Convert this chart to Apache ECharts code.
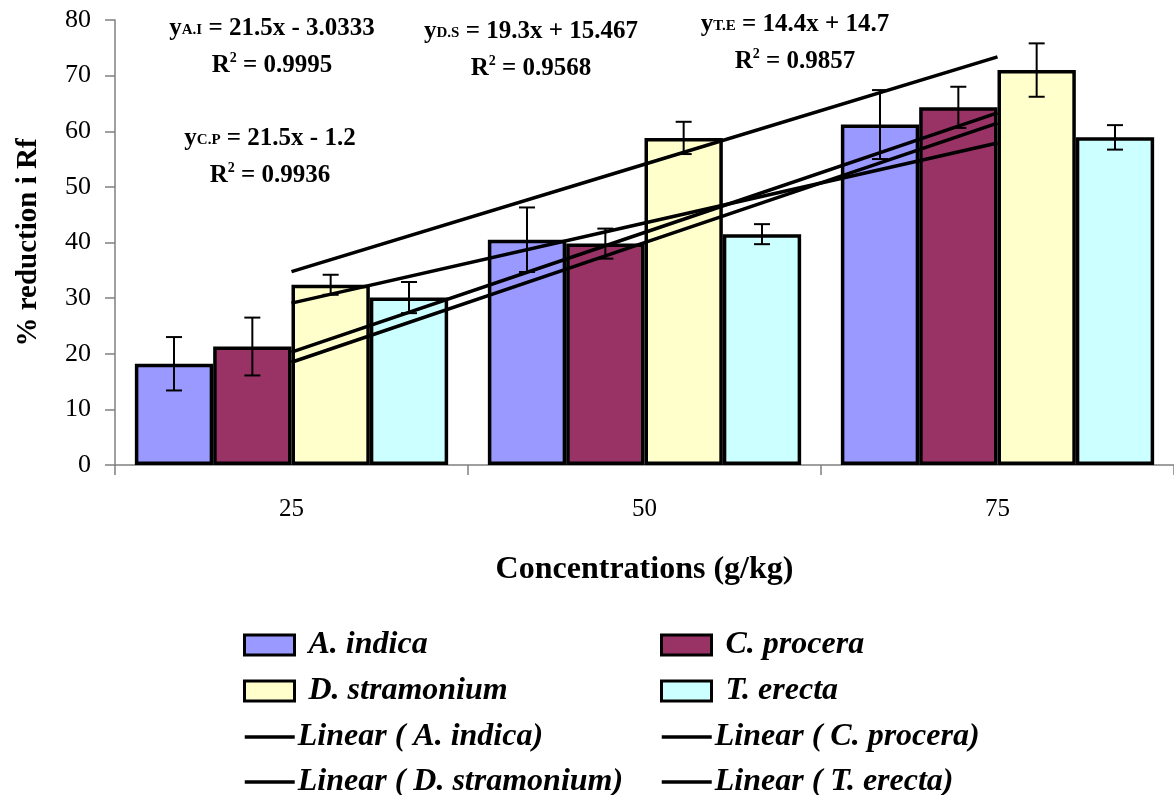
<!DOCTYPE html>
<html>
<head>
<meta charset="utf-8">
<script src="https://cdn.jsdelivr.net/npm/echarts@6/dist/echarts.min.js"></script>
<style>
  html, body { margin: 0; padding: 0; background: #fff; }
  #chart { width: 1174px; height: 795px; }
</style>
</head>
<body>
<div id="chart"></div>
<script>
// concentrations (g/kg)
var categories = ['25', '50', '75'];

var seriesNames = ['A. indica', 'C. procera', 'D. stramonium', 'T. erecta'];
var seriesColors = ['#9999FF', '#993366', '#FFFFCC', '#CCFFFF'];

// % reduction in Rf
var indica = [18.2, 40.5, 61.2];
var procera = [21.3, 39.8, 64.3];
var stramonium = [32.4, 58.8, 71.0];
var erecta = [30.1, 41.5, 58.9];

// error bar half-lengths
var indicaErr = [4.8, 5.8, 6.2];
var proceraErr = [5.2, 2.7, 3.7];
var stramoniumErr = [1.8, 2.9, 4.8];
var erectaErr = [2.8, 1.8, 2.2];

// linear trend lines as printed on the chart (x = 1, 2, 3)
var trendSlope = [21.5, 21.5, 19.3, 14.4];
var trendIntercept = [-3.0333, -1.2, 15.467, 14.7];
var trendR2 = ['0.9995', '0.9936', '0.9568', '0.9857'];
var trendTags = ['A.I', 'C.P', 'D.S', 'T.E'];

var yTicks = { min: 0, max: 80, interval: 10 };

var values = [indica, procera, stramonium, erecta];
var errors = [indicaErr, proceraErr, stramoniumErr, erectaErr];

var FONT = '"Liberation Serif", "Times New Roman", serif';
var GAP = 0.1125; // barCategoryGap as fraction

var chart = echarts.init(document.getElementById('chart'), null, {renderer: 'canvas'});

var series = [];

values.forEach(function (vals, i) {
    series.push({
        name: seriesNames[i],
        type: 'bar',
        data: vals,
        barGap: '0%',
        barCategoryGap: (GAP * 100) + '%',
        itemStyle: {
            color: seriesColors[i],
            borderColor: '#000',
            borderWidth: 3.5
        },
        z: 2
    });
});

// error bars
values.forEach(function (vals, i) {
    series.push({
        name: seriesNames[i] + ' err',
        type: 'custom',
        data: vals.map(function (v, k) { return [k, v, errors[i][k]]; }),
        encode: {x: 0, y: 1},
        z: 3,
        renderItem: function (params, api) {
            var k = api.value(0);
            var v = api.value(1);
            var e = api.value(2);
            var band = api.size([1, 0])[0];
            var bw = band * (1 - GAP) / 4;
            var off = (i - 1.5) * bw;
            var hi = api.coord([k, v + e]);
            var lo = api.coord([k, v - e]);
            var x = hi[0] + off;
            var cap = 8;
            var st = {stroke: '#000', lineWidth: 2};
            return {
                type: 'group',
                children: [
                    {type: 'line', shape: {x1: x, y1: hi[1], x2: x, y2: lo[1]}, style: st},
                    {type: 'line', shape: {x1: x - cap, y1: hi[1], x2: x + cap, y2: hi[1]}, style: st},
                    {type: 'line', shape: {x1: x - cap, y1: lo[1], x2: x + cap, y2: lo[1]}, style: st}
                ]
            };
        }
    });
});

// trend lines
seriesNames.forEach(function (n, i) {
    series.push({
        name: 'Linear ( ' + n + ')',
        type: 'line',
        data: categories.map(function (c, k) {
            return +(trendSlope[i] * (k + 1) + trendIntercept[i]).toFixed(3);
        }),
        symbol: 'none',
        lineStyle: {color: '#000', width: 3.5},
        itemStyle: {color: '#000'},
        z: 4
    });
});

function eqText(i) {
    var k = trendSlope[i];
    var b = trendIntercept[i];
    var sign = b < 0 ? ' - ' : ' + ';
    return '{y|y}{sub|' + trendTags[i] + '}{m| = ' + k + 'x' + sign + Math.abs(b) + '}\n' +
        '{m|R}{sup|2}{m| = ' + trendR2[i] + '}';
}

var eqRich = {
    y: {fontFamily: FONT, fontWeight: 'bold', fontSize: 25, lineHeight: 37, color: '#000'},
    m: {fontFamily: FONT, fontWeight: 'bold', fontSize: 25, lineHeight: 37, color: '#000'},
    sub: {fontFamily: FONT, fontWeight: 'bold', fontSize: 15, lineHeight: 15, verticalAlign: 'bottom', padding: [0, 0, 9, 0], color: '#000'},
    sup: {fontFamily: FONT, fontWeight: 'bold', fontSize: 14, lineHeight: 14, verticalAlign: 'top', padding: [4, 0, 0, 0], color: '#000'}
};

// equation label anchor points
var eqPos = [[272, 47], [270, 157], [531, 50], [795, 43]];

var graphics = eqPos.map(function (p, i) {
    return {
        type: 'text',
        x: p[0],
        y: p[1],
        style: {
            text: eqText(i),
            rich: eqRich,
            align: 'center',
            verticalAlign: 'middle'
        },
        z: 10
    };
});

// legend: two columns, four rows (one small legend per entry)
var legendCols = [243, 660];
var legendRows = [629, 675, 721, 766];
var legendOrder = [
    [seriesNames[0], seriesNames[1]],
    [seriesNames[2], seriesNames[3]],
    ['Linear ( ' + seriesNames[0] + ')', 'Linear ( ' + seriesNames[1] + ')'],
    ['Linear ( ' + seriesNames[2] + ')', 'Linear ( ' + seriesNames[3] + ')']
];
var legends = [];
legendOrder.forEach(function (row, r) {
    row.forEach(function (name, c) {
        var isBar = r < 2;
        var item = isBar
            ? {name: name, icon: 'rect', itemStyle: {borderColor: '#000', borderWidth: 3}}
            : {name: name, itemStyle: {opacity: 0, borderWidth: 0}, lineStyle: {width: 3.5, color: '#000'}};
        legends.push({
            left: legendCols[c],
            top: legendRows[r],
            padding: 0,
            itemWidth: 50,
            itemHeight: 20,
            selectedMode: false,
            textStyle: {
                fontFamily: FONT,
                fontSize: 32,
                lineHeight: 32,
                fontStyle: 'italic',
                fontWeight: 'bold',
                color: '#000',
                padding: isBar ? [0, 0, 0, 9] : [0, 0, 0, -2]
            },
            data: [item]
        });
    });
});

var option = {
    backgroundColor: '#fff',
    animation: false,
    grid: {left: 115, top: 20, width: 1067, height: 445},
    xAxis: {
        type: 'category',
        data: categories,
        axisLine: {lineStyle: {color: '#808080', width: 1.5}},
        axisTick: {show: true, length: 10, lineStyle: {color: '#808080', width: 1.5}},
        axisLabel: {fontFamily: FONT, fontSize: 25, color: '#000', margin: 32},
        name: 'Concentrations (g/kg)',
        nameLocation: 'middle',
        nameGap: 89,
        nameTextStyle: {fontFamily: FONT, fontSize: 32, fontWeight: 'bold', color: '#000'}
    },
    yAxis: {
        type: 'value',
        min: yTicks.min,
        max: yTicks.max,
        interval: yTicks.interval,
        splitLine: {show: false},
        axisLine: {show: true, lineStyle: {color: '#808080', width: 1.5}},
        axisTick: {show: true, length: 10, lineStyle: {color: '#808080', width: 1.5}},
        axisLabel: {fontFamily: FONT, fontSize: 26, color: '#000', margin: 24},
        name: '% reduction i Rf',
        nameLocation: 'middle',
        nameRotate: 90,
        nameGap: 72,
        nameTextStyle: {fontFamily: FONT, fontSize: 29, fontWeight: 'bold', color: '#000'}
    },
    legend: legends,
    graphic: graphics,
    series: series
};

chart.setOption(option);
</script>
</body>
</html>
